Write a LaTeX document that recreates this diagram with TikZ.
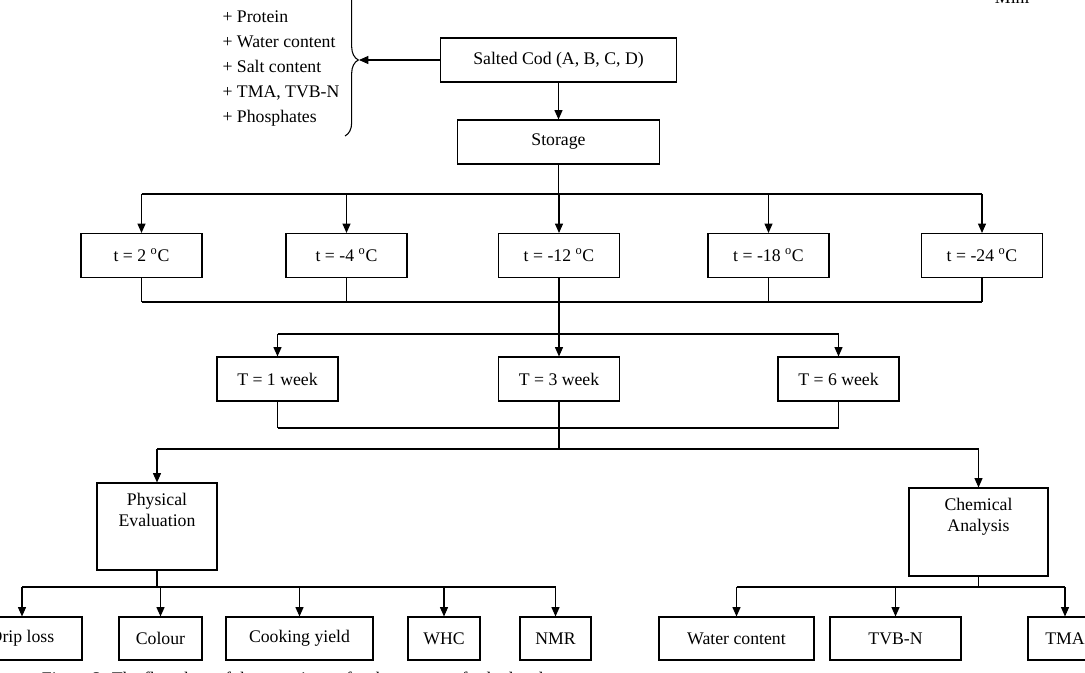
\documentclass[tikz,border=0pt]{standalone}
\usepackage{fontspec}
\setmainfont{Liberation Serif}
\usetikzlibrary{positioning, arrows.meta, calc, decorations.pathreplacing}

\begin{document}
\begin{tikzpicture}[x=0.75pt, y=-0.75pt, >={Triangle[length=7pt,width=6pt]}, line width=0.8pt,
    every node/.style={font=\fontsize{13.3}{16}\selectfont},
    box/.style={draw, inner sep=0pt, minimum height=33pt},
    tbox/.style={box, minimum width=90.75pt},
    wbox/.style={box, minimum width=90.75pt},
    leaf/.style={box, minimum height=32.25pt}]
    \useasboundingbox (0,0) rectangle (1085,673);

    % Sample and storage
    \node[box, minimum width=177pt] (cod) at (558.5,60) {Salted Cod (A, B, C, D)};
    \node[box, minimum width=151.5pt] (storage) at (558.5,142) {Storage};
    \draw[->] (cod) -- (storage);

    % Analyses on the salted cod
    \foreach \txt [count=\i] in {Protein, Water content, Salt content, {TMA, TVB-N}, Phosphates}
        \node[anchor=base west, inner sep=0pt] (item\i) at (222,{23+25*(\i-1)}) {+ \txt};
    \coordinate (bracetip) at (359,60);
    \draw[decorate, decoration={brace, amplitude=10pt}] (345,-16) -- (345,136);
    \draw[->] (cod.west) -- (bracetip);

    % Storage temperatures
    \coordinate (busA) at (0,194);
    \coordinate (busB) at (0,302);
    \foreach \name/\x/\temp in {t1/141.5/2, t2/346.5/-4, t3/559/-12, t4/768.5/-18, t5/982/-24}
    {
        \node[tbox] (\name) at (\x,255.5) {t = \temp\ \textsuperscript{o}C};
        \draw[->] (\name.north |- busA) -- (\name.north);
        \draw (\name.south) -- (\name.south |- busB);
    }
    \draw (storage.south) -- (storage.south |- busA);
    \draw (t1.north |- busA) -- (t5.north |- busA);
    \draw (t1.south |- busB) -- (t5.south |- busB);

    % Storage times
    \coordinate (busC) at (0,334);
    \coordinate (busD) at (0,428);
    \foreach \name/\x/\wk in {w1/277.5/1, w2/559/3, w3/838.5/6}
    {
        \node[wbox] (\name) at (\x,379) {T = \wk\ week};
        \draw[->] (\name.north |- busC) -- (\name.north);
        \draw (\name.south) -- (\name.south |- busD);
    }
    \draw (t3.south) -- (t3.south |- busC);
    \draw (w1.north |- busC) -- (w3.north |- busC);
    \draw (w1.south |- busD) -- (w3.south |- busD);

    % Evaluation groups
    \coordinate (busE) at (0,449);
    \node[box, minimum width=90pt, minimum height=65.25pt] (phys) at (157,526.5) {};
    \node[anchor=north, align=center] (physlbl) at ([yshift=-4pt]phys.north) {Physical\\Evaluation};
    \node[box, minimum width=104.25pt, minimum height=66pt] (chem) at (978.5,532) {};
    \node[anchor=north, align=center] (chemlbl) at ([yshift=-4pt]chem.north) {Chemical\\Analysis};
    \draw (w2.south) -- (w2.south |- busE);
    \draw (phys.north |- busE) -- (chem.north |- busE);
    \draw[->] (phys.north |- busE) -- (phys.north);
    \draw[->] (chem.north |- busE) -- (chem.north);

    % Measurements
    \coordinate (busF) at (0,587);
    \foreach \name/\x/\w/\txt in {drip/22/90/Drip loss, colour/160.5/62.25/Colour,
        cook/299.5/110.25/Cooking yield, whc/444/54/WHC, nmr/555.5/53.25/NMR,
        water/736.5/116.25/Water content, tvbn/895.5/98.25/TVB-N, tma/1065/55.5/TMA}
    {
        \node[leaf, minimum width=\w pt] (\name) at (\x,638.5) {\txt};
        \draw[->] (\name.north |- busF) -- (\name.north);
    }
    \draw (phys.south) -- (phys.south |- busF);
    \draw (drip.north |- busF) -- (nmr.north |- busF);
    \draw (chem.south) -- (chem.south |- busF);
    \draw (water.north |- busF) -- (tma.north |- busF);

    % Cut-off texts at the edges
    \node[anchor=base west] (mini) at (990,4) {Mini};
    \node[anchor=base west] (caption) at (37,684) {Figure 3. The flowchart of the experiment for the storage of salted cod};
\end{tikzpicture}
\end{document}
